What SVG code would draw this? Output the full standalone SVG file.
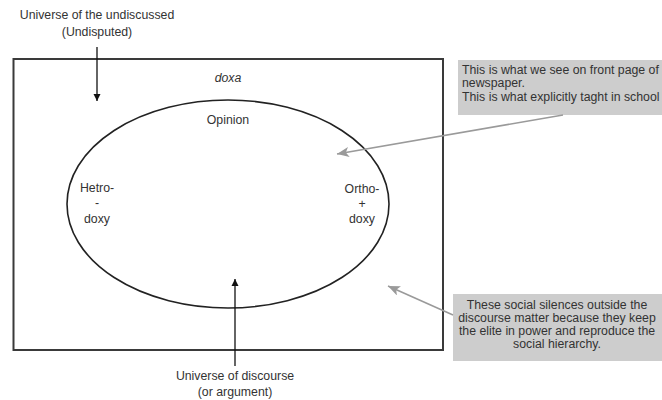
<svg xmlns="http://www.w3.org/2000/svg" width="662" height="400" viewBox="0 0 662 400">
  <style>
    text { font-family: "Liberation Sans", Arial, sans-serif; font-size: 12.3px; fill: #333; }
    .mid { text-anchor: middle; }
    .frame { fill: none; stroke: #3a3a3a; stroke-width: 2; }
    .oval { fill: none; stroke: #222; stroke-width: 1.6; }
    .note { fill: #cdcdcd; }
    .dark { stroke: #111; stroke-width: 1.3; fill: none; }
    .grey { stroke: #9a9a9a; stroke-width: 1.6; fill: none; }
  </style>
  <defs>
    <marker id="headDark" viewBox="0 0 10 10" refX="10" refY="5" markerWidth="7" markerHeight="9" markerUnits="userSpaceOnUse" orient="auto">
      <path d="M0,0 L10,5 L0,10 Z" fill="#111"/>
    </marker>
    <marker id="headGrey" viewBox="0 0 12 10" refX="12" refY="5" markerWidth="14" markerHeight="10" markerUnits="userSpaceOnUse" orient="auto">
      <path d="M0,0 L12,5 L0,10 L3,5 Z" fill="#9a9a9a"/>
    </marker>
  </defs>

  <rect width="662" height="400" fill="#fff"/>

  <!-- outer universe frame -->
  <g id="doxa-frame">
    <rect class="frame" x="13.5" y="59" width="429.5" height="291"/>
    <text class="mid" x="228" y="82" font-style="italic">doxa</text>
  </g>

  <!-- universe of discourse -->
  <g id="opinion">
    <ellipse class="oval" cx="228" cy="204" rx="161" ry="104"/>
    <text class="mid" x="228" y="124">Opinion</text>
  </g>

  <g id="heterodoxy">
    <text class="mid" x="97" y="192">Hetro-</text>
    <text class="mid" x="97" y="207">-</text>
    <text class="mid" x="97" y="223">doxy</text>
  </g>

  <g id="orthodoxy">
    <text class="mid" x="362" y="193">Ortho-</text>
    <text class="mid" x="362" y="208">+</text>
    <text class="mid" x="362" y="223">doxy</text>
  </g>

  <g id="undiscussed-label">
    <text class="mid" x="97" y="19">Universe of the undiscussed</text>
    <text class="mid" x="97" y="36">(Undisputed)</text>
  </g>

  <g id="discourse-label">
    <text class="mid" x="235" y="380">Universe of discourse</text>
    <text class="mid" x="235" y="396">(or argument)</text>
  </g>

  <g id="note-front-page">
    <rect class="note" x="458" y="60" width="204" height="55"/>
    <text x="462" y="74">This is what we see on front page of</text>
    <text x="462" y="87">newspaper.</text>
    <text x="462" y="101">This is what explicitly taght in school</text>
  </g>

  <g id="note-silences">
    <rect class="note" x="453" y="294" width="209" height="67"/>
    <text class="mid" x="557" y="309">These social silences outside the</text>
    <text class="mid" x="557" y="322">discourse matter because they keep</text>
    <text class="mid" x="557" y="335">the elite in power and reproduce the</text>
    <text class="mid" x="557" y="348">social hierarchy.</text>
  </g>

  <!-- connectors -->
  <g id="connectors">
    <line class="dark" x1="97" y1="47" x2="97" y2="101" marker-end="url(#headDark)"/>
    <line class="dark" x1="235" y1="366" x2="235" y2="279" marker-end="url(#headDark)"/>
    <line class="grey" x1="563" y1="115" x2="337" y2="154" marker-end="url(#headGrey)"/>
    <line class="grey" x1="453" y1="315" x2="388" y2="286" marker-end="url(#headGrey)"/>
  </g>
</svg>
